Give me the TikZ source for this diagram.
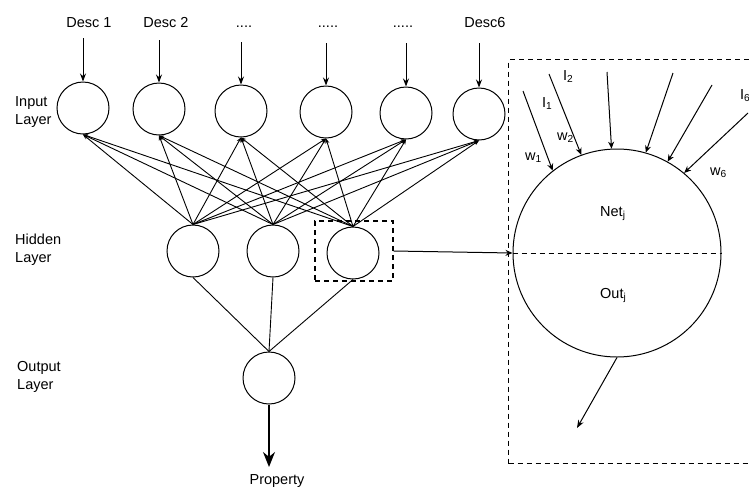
\documentclass[tikz,border=0pt]{standalone}
\usepackage{fontspec}
\setmainfont{Liberation Sans}
\usetikzlibrary{arrows.meta}
\begin{document}
\begin{tikzpicture}[x=1pt,y=-1pt,
  neuron/.style={draw,circle,minimum size=52pt,inner sep=0pt,line width=1pt},
  lbl/.style={font=\fontsize{14.5}{18}\selectfont,inner sep=0pt},
  feed/.style={line width=1pt,-{Stealth[length=8pt,width=6pt]}},
  link/.style={line width=0.9pt,-{Stealth[length=5pt,width=4pt]}},
  plain/.style={line width=0.9pt},
  dashbox/.style={draw,line width=1.1pt,dash pattern=on 5pt off 4pt},
]
\useasboundingbox (0,0) rectangle (749,488);

% layer captions
\node[lbl,align=left,anchor=west] (capin)  at (15,112) {Input\\Layer};
\node[lbl,align=left,anchor=west] (caphid) at (15,250) {Hidden\\Layer};
\node[lbl,align=left,anchor=west] (capout) at (17,377) {Output\\Layer};

% input layer
\node[neuron] (i1) at (83,108) {};
\node[neuron] (i2) at (159,109) {};
\node[neuron] (i3) at (241,111) {};
\node[neuron] (i4) at (326,112) {};
\node[neuron] (i5) at (406,113) {};
\node[neuron] (i6) at (479,114) {};

% descriptor labels and their feeds
\node[lbl,anchor=base] (d1) at (89,27) {Desc 1};
\node[lbl,anchor=base] (d2) at (166,27) {Desc 2};
\node[lbl,anchor=base] (d3) at (244,27) {....};
\node[lbl,anchor=base] (d4) at (328,27) {.....};
\node[lbl,anchor=base] (d5) at (403,27) {.....};
\node[lbl,anchor=base] (d6) at (485,27) {Desc6};
\coordinate (s1) at (83,38);
\coordinate (s2) at (159,40);
\coordinate (s3) at (241,42);
\coordinate (s4) at (326,43);
\coordinate (s5) at (406,43);
\coordinate (s6) at (479,43);
\foreach \k in {1,...,6} \draw[feed] (s\k) -- (i\k.north);

% hidden layer
\node[neuron] (h1) at (193,251) {};
\node[neuron] (h2) at (273,251) {};
\node[neuron] (h3) at (353,253) {};

% full connection between input and hidden layers
\foreach \h in {1,2,3}
  \foreach \k in {1,...,6}
    \draw[link] (h\h.north) -- (i\k.south);

% output layer
\node[neuron] (o) at (269,378) {};
\foreach \h in {1,2,3} \draw[plain] (h\h.south) -- (o.north);
\coordinate (prop) at (269,467);
\draw[line width=1.8pt,-{Stealth[length=15pt,width=12pt]}] (o.south) -- (prop);
\node[lbl,anchor=base] (plbl) at (277,484) {Property};

% highlighted hidden neuron
\node[dashbox,minimum width=78pt,minimum height=60pt,inner sep=0pt] (hbox) at (354,251) {};

% enlarged neuron
\node[dashbox,minimum width=260pt,minimum height=404pt,inner sep=0pt,anchor=north west] (zoombox) at (508,59) {};
\node[draw,circle,minimum size=208pt,inner sep=0pt,line width=1pt] (big) at (617,253) {};
\draw[line width=1pt,dash pattern=on 5pt off 4pt] (big.west) -- (big.east);
\draw[line width=1pt,-{Stealth[length=7pt,width=6pt]}] (hbox.east) -- (big.west);

\node[lbl,anchor=base west] (net) at (600,216) {Net\textsubscript{j}};
\node[lbl,anchor=base west] (out) at (600,298) {Out\textsubscript{j}};

% weighted inputs of the neuron
\coordinate (a1) at (523,91);
\coordinate (a2) at (549,74);
\coordinate (a3) at (607,72);
\coordinate (a4) at (673,73);
\coordinate (a5) at (712,85);
\coordinate (a6) at (748,113);
\draw[line width=1pt,-{Stealth[length=7pt,width=6pt]}] (a1) -- (big.128);
\draw[line width=1pt,-{Stealth[length=7pt,width=6pt]}] (a2) -- (big.110);
\draw[line width=1pt,-{Stealth[length=7pt,width=6pt]}] (a3) -- (big.93);
\draw[line width=1pt,-{Stealth[length=7pt,width=6pt]}] (a4) -- (big.74);
\draw[line width=1pt,-{Stealth[length=7pt,width=6pt]}] (a5) -- (big.61);
\draw[line width=1pt,-{Stealth[length=7pt,width=6pt]}] (a6) -- (big.50);

\node[lbl,anchor=base west] (in1) at (542,107) {I\textsubscript{1}};
\node[lbl,anchor=base west] (in2) at (563,80) {I\textsubscript{2}};
\node[lbl,anchor=base west] (in6) at (740,99) {I\textsubscript{6}};
\node[lbl,anchor=base west] (w1) at (525,160) {w\textsubscript{1}};
\node[lbl,anchor=base west] (w2) at (557,140) {w\textsubscript{2}};
\node[lbl,anchor=base west] (w6) at (710,175) {w\textsubscript{6}};

% output of the neuron
\coordinate (res) at (577,428);
\draw[line width=1pt,-{Stealth[length=8pt,width=6pt]}] (big.south) -- (res);
\end{tikzpicture}
\end{document}
